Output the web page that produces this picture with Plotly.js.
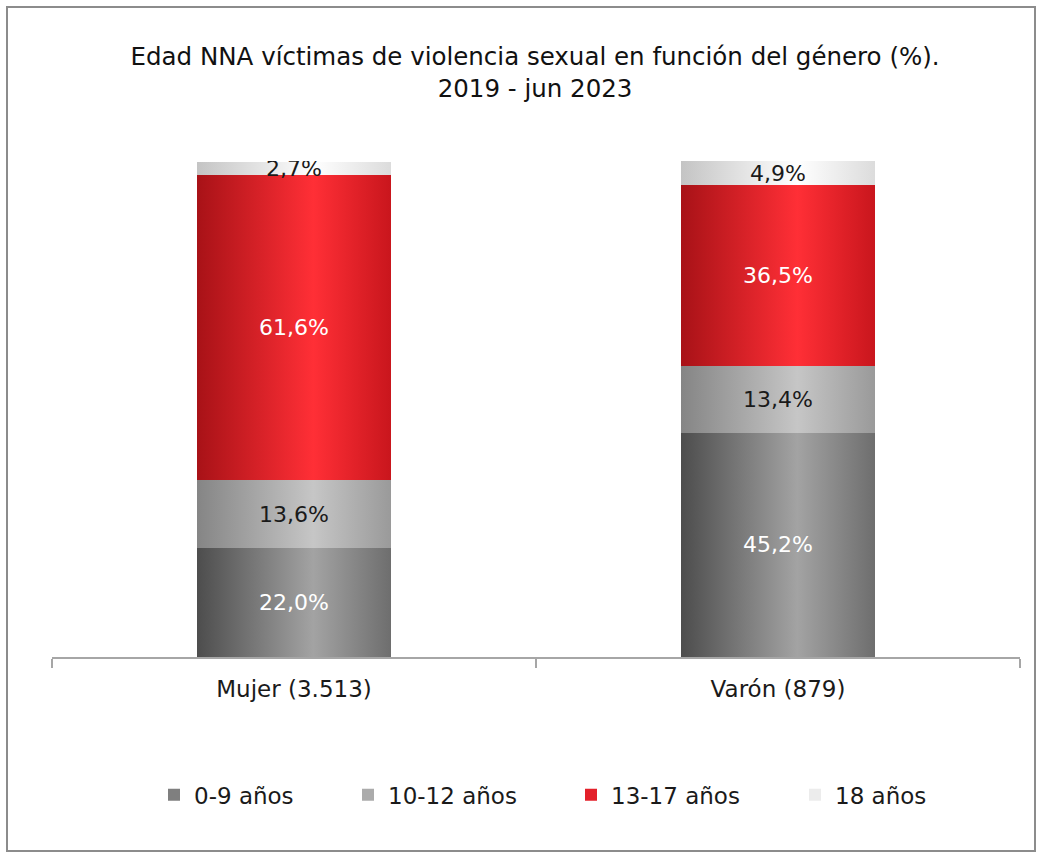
<!DOCTYPE html>
<html>
<head>
<meta charset="utf-8">
<script src="https://cdn.plot.ly/plotly-3.0.1.min.js"></script>
<style>
  html, body { margin: 0; padding: 0; background: #ffffff; }
  #chart { width: 1041px; height: 855px; }
  #frame { position: absolute; left: 6px; top: 6px; width: 1026px; height: 842px;
           border: 2px solid #8c8c8c; pointer-events: none; }
</style>
</head>
<body>
<div id="chart"></div>
<div id="frame"></div>
<script>
const categories = ['Mujer (3.513)', 'Varón (879)'];
const seriesNames = ['0-9 años', '10-12 años', '13-17 años', '18 años'];
const age0to9 = [22.0, 45.2];
const age10to12 = [13.6, 13.4];
const age13to17 = [61.6, 36.5];
const age18 = [2.7, 4.9];
const seriesValues = [age0to9, age10to12, age13to17, age18];
const seriesColors = ['#7f7f7f', '#ababab', '#e3202a', '#ececec'];
const labelColors = ['#ffffff', '#1a1a1a', '#ffffff', '#1a1a1a'];
// horizontal shading stops (left, highlight, right) for the cylinder-like look
const shadeStops = [
  ['#4d4d4d', '#a3a3a3', '#6e6e6e'],
  ['#858585', '#c6c6c6', '#9a9a9a'],
  ['#a81217', '#ff2f36', '#c9161d'],
  ['#c4c4c4', '#ffffff', '#dcdcdc']
];
const legendNames = ['legend', 'legend2', 'legend3', 'legend4'];
const legendCenters = [174, 368, 591, 815];

const FONT = '"DejaVu Sans", sans-serif';
const fmt = v => v.toFixed(1).replace('.', ',') + '%';

const traces = seriesValues.map((vals, i) => ({
  type: 'bar',
  name: seriesNames[i],
  x: categories,
  y: vals,
  text: vals.map(fmt),
  textposition: 'inside',
  insidetextanchor: 'middle',
  constraintext: 'none',
  textfont: { family: FONT, size: 22, color: labelColors[i] },
  marker: { color: seriesColors[i], line: { width: 0 } },
  legend: legendNames[i],
  hoverinfo: 'skip'
}));

const plotLeft = 52, plotWidth = 968;
const layout = {
  width: 1041,
  height: 855,
  barmode: 'stack',
  bargap: 0.6,
  paper_bgcolor: '#ffffff',
  plot_bgcolor: '#ffffff',
  font: { family: FONT, color: '#1a1a1a' },
  margin: { l: 52, r: 21, t: 161, b: 198 },
  title: {
    text: 'Edad NNA víctimas de violencia sexual en función del género (%).<br>2019 - jun 2023',
    x: 0.514, xanchor: 'center',
    y: 0.9235, yanchor: 'middle',
    font: { family: FONT, size: 24.5, color: '#111111' }
  },
  xaxis: {
    showline: true, linecolor: '#a6a6a6', linewidth: 2,
    ticks: 'outside', tickson: 'boundaries', ticklen: 9, tickcolor: '#a6a6a6', tickwidth: 2,
    ticklabelstandoff: 10,
    tickfont: { family: FONT, size: 23, color: '#1a1a1a' },
    showgrid: false, zeroline: false
  },
  yaxis: {
    range: [0, 100], visible: false, showgrid: false, zeroline: false
  },
  showlegend: true
};
legendNames.forEach((ln, i) => {
  layout[ln] = {
    orientation: 'h',
    x: (legendCenters[i] - 20 - plotLeft) / plotWidth, xanchor: 'left',
    y: -0.278, yanchor: 'middle',
    font: { family: FONT, size: 23, color: '#1a1a1a' },
    bgcolor: 'rgba(0,0,0,0)', borderwidth: 0, itemwidth: 30
  };
});

Plotly.newPlot('chart', traces, layout, { displayModeBar: false, staticPlot: true }).then(gd => {
  const svg = gd.querySelector('svg.main-svg');
  const ns = 'http://www.w3.org/2000/svg';
  let defs = svg.querySelector('defs');
  if (!defs) { defs = document.createElementNS(ns, 'defs'); svg.insertBefore(defs, svg.firstChild); }
  shadeStops.forEach((stops, i) => {
    const g = document.createElementNS(ns, 'linearGradient');
    g.setAttribute('id', 'shade' + i);
    g.setAttribute('x1', '0'); g.setAttribute('x2', '1'); g.setAttribute('y1', '0'); g.setAttribute('y2', '0');
    [[0, stops[0]], [0.6, stops[1]], [1, stops[2]]].forEach(([o, c]) => {
      const s = document.createElementNS(ns, 'stop');
      s.setAttribute('offset', o); s.setAttribute('stop-color', c);
      g.appendChild(s);
    });
    defs.appendChild(g);
  });
  gd.querySelectorAll('.barlayer .trace').forEach((tr, i) => {
    tr.querySelectorAll('.point path').forEach(p => { p.style.fill = 'url(#shade' + i + ')'; });
  });
});
</script>
</body>
</html>
